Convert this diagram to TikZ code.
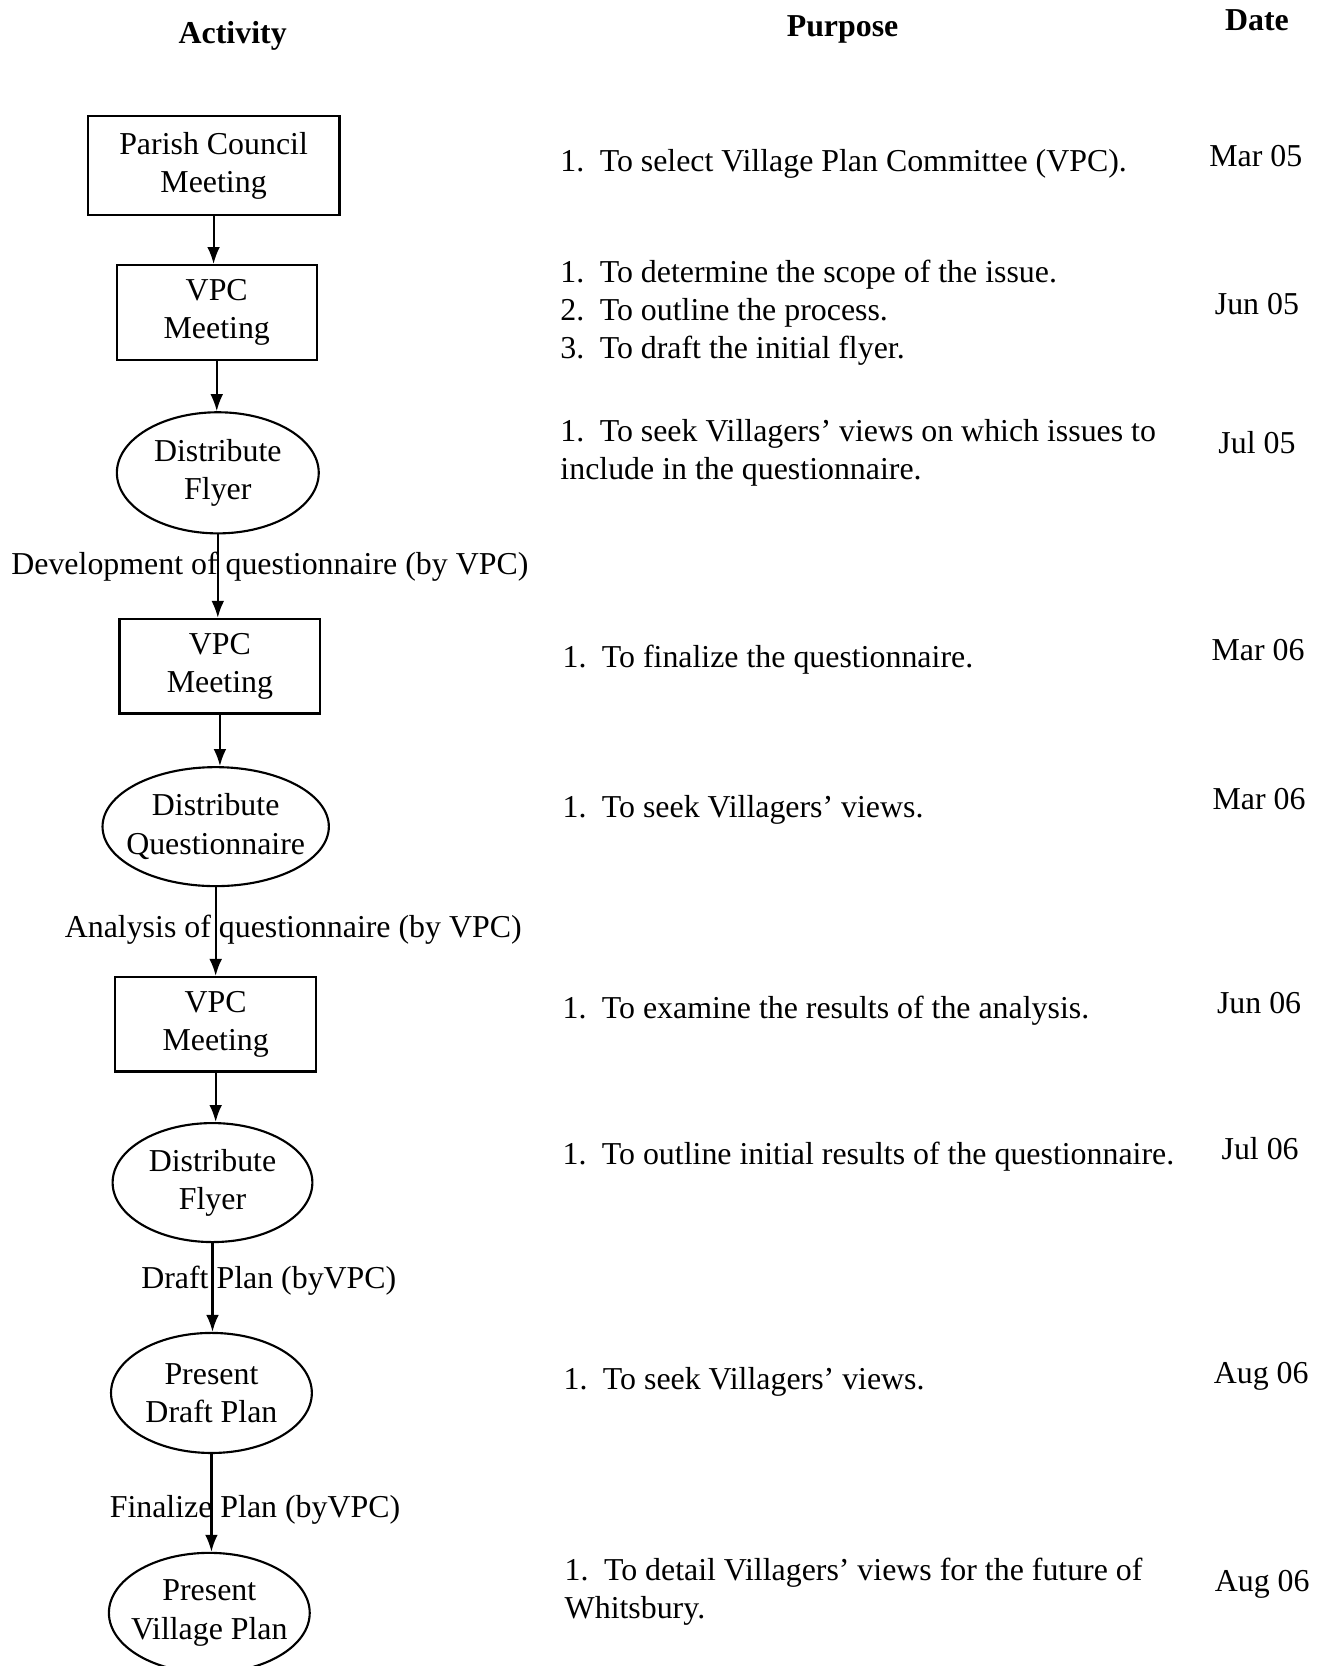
\documentclass[tikz,border=0pt]{standalone}
\usepackage{fontspec}
\setmainfont{Liberation Serif}
\usetikzlibrary{arrows.meta}
\usetikzlibrary{shapes.geometric}

\tikzset{
  boxact/.style={draw,thick,rectangle,align=center,inner sep=0pt,font=\fontsize{12}{14.4}\selectfont,yshift=-0.8pt},
  ovalact/.style={draw,thick,ellipse,align=center,inner xsep=-4pt,inner ysep=0pt,font=\fontsize{12}{14.4}\selectfont},
  purpose/.style={anchor=base west,align=left,inner sep=0pt},
  datetxt/.style={anchor=base,inner sep=0pt},
  flow/.style={thick,-{Latex[length=6.4pt,width=4.8pt]}},
}
\newcommand{\itm}[1]{\makebox[14.8pt][l]{#1}}

\begin{document}
\begin{tikzpicture}[x=0.4pt,y=-0.4pt,font=\fontsize{12}{14.2}\selectfont]

\useasboundingbox (0,0) rectangle (1247,1568);

% column heads
\node[datetxt,font=\fontsize{12}{14.2}\selectfont\bfseries] (hact) at (219,41) {Activity};
\node[datetxt,font=\fontsize{12}{14.2}\selectfont\bfseries] (hpur) at (793,34) {Purpose};
\node[datetxt,font=\fontsize{12}{14.2}\selectfont\bfseries] (hdat) at (1183,29) {Date};

% activities
\node[boxact,minimum width=94.8pt,minimum height=37.2pt] (pcm) at (201,154) {Parish Council\\Meeting};
\node[boxact,minimum width=75.2pt,minimum height=35.6pt] (vpcA) at (204,292) {VPC\\Meeting};
\node[ovalact,minimum width=76pt,minimum height=45.6pt] (flyA) at (205,445) {Distribute\\Flyer};
\node[boxact,minimum width=75.6pt,minimum height=35.6pt] (vpcB) at (207,625) {VPC\\Meeting};
\node[ovalact,minimum width=85.2pt,minimum height=44.8pt] (quest) at (203,778) {Distribute\\Questionnaire};
\node[boxact,minimum width=75.6pt,minimum height=35.6pt] (vpcC) at (203,962) {VPC\\Meeting};
\node[ovalact,minimum width=75.2pt,minimum height=44.8pt] (flyB) at (200,1113) {Distribute\\Flyer};
\node[ovalact,minimum width=75.6pt,minimum height=45.2pt] (draft) at (199,1311) {Present\\Draft Plan};
\node[ovalact,minimum width=75.6pt,minimum height=45.2pt] (vplan) at (197,1518) {Present\\Village Plan};

% connectors
\draw[flow] (pcm.south) -- (pcm.south |- vpcA.north);
\draw[flow] (vpcA.south) -- (vpcA.south |- flyA.north);
\draw[flow] (flyA.south) -- (flyA.south |- vpcB.north) node[midway,xshift=19.6pt,yshift=3.6pt] {Development of questionnaire (by VPC)};
\draw[flow] (vpcB.south) -- (vpcB.south |- quest.north);
\draw[flow] (quest.south) -- (quest.south |- vpcC.north) node[midway,xshift=29.2pt,yshift=0.8pt] {Analysis of questionnaire (by VPC)};
\draw[flow] (vpcC.south) -- (vpcC.south |- flyB.north);
\draw[flow] (flyB.south) -- (flyB.south |- draft.north) node[midway,xshift=21.2pt,yshift=2.4pt] {Draft Plan (byVPC)};
\draw[flow] (draft.south) -- (draft.south |- vplan.north) node[midway,xshift=16.4pt,yshift=-2.8pt] {Finalize Plan (byVPC)};

% purposes (base = last line)
\node[purpose] (pA) at (527,161) {\itm{1.}To select Village Plan Committee (VPC).};
\node[purpose] (pB) at (527,337) {\itm{1.}To determine the scope of the issue.\\\itm{2.}To outline the process.\\\itm{3.}To draft the initial flyer.};
\node[purpose] (pC) at (527,451) {\itm{1.}To seek Villagers' views on which issues to\\include in the questionnaire.};
\node[purpose] (pD) at (529,628) {\itm{1.}To finalize the questionnaire.};
\node[purpose] (pE) at (529,769) {\itm{1.}To seek Villagers' views.};
\node[purpose] (pF) at (529,959) {\itm{1.}To examine the results of the analysis.};
\node[purpose] (pG) at (529,1096) {\itm{1.}To outline initial results of the questionnaire.};
\node[purpose] (pH) at (530,1308) {\itm{1.}To seek Villagers' views.};
\node[purpose] (pI) at (531,1523) {\itm{1.}To detail Villagers' views for the future of\\Whitsbury.};

% dates
\node[datetxt] (dA) at (1182,157) {Mar 05};
\node[datetxt] (dB) at (1183,296) {Jun 05};
\node[datetxt] (dC) at (1183,427) {Jul 05};
\node[datetxt] (dD) at (1184,622) {Mar 06};
\node[datetxt] (dE) at (1185,762) {Mar 06};
\node[datetxt] (dF) at (1185,954) {Jun 06};
\node[datetxt] (dG) at (1186,1091) {Jul 06};
\node[datetxt] (dH) at (1187,1302) {Aug 06};
\node[datetxt] (dI) at (1188,1498) {Aug 06};

\end{tikzpicture}
\end{document}
